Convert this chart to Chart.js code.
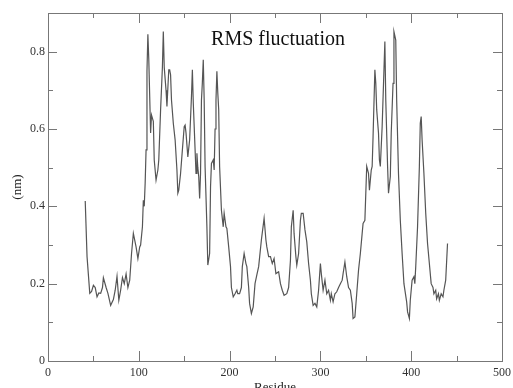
<!DOCTYPE html>
<html>
<head>
<meta charset="utf-8">
<script src="https://cdn.jsdelivr.net/npm/chart.js@4.4.1/dist/chart.umd.min.js"></script>
<style>
  html, body { margin: 0; padding: 0; background: #fff; }
  #wrap { width: 513px; height: 388px; position: relative; }
</style>
</head>
<body>
<div id="wrap"><canvas id="rmsf"></canvas></div>
<script>
// residue numbers and RMS fluctuation (nm)
const residues = [41, 43, 46, 48, 50, 52, 54, 56, 58, 60, 61, 64, 66, 69, 72, 74, 76, 78, 80, 82, 84, 86, 88, 90,
  92, 94, 97, 99, 101, 102, 104, 105, 106, 107, 108, 109, 110, 111, 113, 114, 116, 117, 119, 121, 122, 124, 126,
  127, 128, 130, 131, 133, 134, 135, 136, 138, 140, 142, 143, 144, 146, 148, 150, 151, 152, 154, 156, 158, 159,
  160, 162, 163, 164, 165, 166, 167, 168, 169, 170, 171, 172, 173, 175, 176, 178, 179, 180, 182, 183, 184, 185,
  186, 187, 188, 189, 191, 193, 194, 196, 197, 199, 201, 202, 204, 206, 208, 209, 211, 213, 214, 216, 218, 219,
  221, 222, 224, 226, 228, 230, 232, 235, 238, 240, 241, 243, 245, 247, 249, 251, 254, 256, 258, 260, 263, 265,
  267, 268, 270, 271, 273, 274, 276, 278, 279, 281, 283, 285, 287, 289, 290, 292, 294, 296, 298, 300, 301, 303,
  305, 307, 309, 311, 312, 314, 316, 318, 320, 322, 324, 325, 327, 329, 331, 333, 335, 336, 338, 340, 342, 344,
  346, 347, 349, 351, 353, 354, 356, 357, 358, 360, 361, 362, 364, 365, 366, 368, 370, 371, 372, 374, 375, 377,
  378, 380, 381, 383, 384, 386, 388, 390, 392, 395, 396, 398, 399, 401, 403, 404, 405, 407, 409, 410, 411, 412,
  414, 416, 418, 420, 422, 424, 425, 427, 428, 430, 431, 433, 435, 436, 438, 440];
const rmsf = [0.414, 0.27, 0.175, 0.18, 0.196, 0.19, 0.166, 0.176, 0.175, 0.19, 0.215, 0.19, 0.175, 0.144, 0.159,
  0.183, 0.219, 0.157, 0.183, 0.216, 0.2, 0.225, 0.19, 0.209,
  0.278, 0.33, 0.295, 0.265, 0.295, 0.30, 0.347, 0.416, 0.40, 0.46, 0.546, 0.75, 0.845, 0.78, 0.59, 0.636, 0.62,
  0.52, 0.468, 0.494, 0.52, 0.65, 0.76,
  0.852, 0.76, 0.70, 0.658, 0.753, 0.753, 0.74, 0.675, 0.615, 0.572, 0.494, 0.434, 0.442, 0.485, 0.546, 0.606,
  0.61, 0.59, 0.528, 0.572, 0.684, 0.753,
  0.667, 0.546, 0.485, 0.537, 0.50, 0.477, 0.42, 0.485, 0.675, 0.72, 0.779, 0.675, 0.503, 0.347, 0.248, 0.278,
  0.45, 0.511, 0.52, 0.494, 0.60, 0.675,
  0.749, 0.693, 0.65, 0.503, 0.39, 0.347, 0.382, 0.347, 0.343, 0.295, 0.244, 0.19, 0.166, 0.174, 0.183, 0.174,
  0.174, 0.19, 0.244, 0.278, 0.252, 0.244,
  0.19, 0.149, 0.123, 0.14, 0.2, 0.223, 0.244, 0.313, 0.369, 0.313, 0.295, 0.27, 0.27, 0.252, 0.265, 0.226,
  0.231, 0.2, 0.183, 0.17, 0.174, 0.19,
  0.26, 0.347, 0.39, 0.33, 0.27, 0.248, 0.278, 0.364, 0.382, 0.382, 0.339, 0.308, 0.252, 0.209, 0.174, 0.144,
  0.149, 0.14, 0.183, 0.252, 0.226, 0.183,
  0.209, 0.174, 0.183, 0.157, 0.174, 0.153, 0.174, 0.179, 0.19, 0.2, 0.209, 0.226, 0.256, 0.218, 0.19, 0.183,
  0.149, 0.11, 0.114, 0.174, 0.235, 0.278,
  0.33, 0.356, 0.364, 0.503, 0.485, 0.442, 0.494, 0.503, 0.58, 0.753, 0.718, 0.65, 0.589, 0.52, 0.503, 0.606,
  0.753, 0.826, 0.675, 0.503, 0.434, 0.477,
  0.589, 0.718, 0.852, 0.83, 0.675, 0.485, 0.364, 0.278, 0.2, 0.153, 0.127, 0.11, 0.157, 0.209, 0.218, 0.2,
  0.244, 0.347, 0.503, 0.615, 0.632, 0.572,
  0.485, 0.382, 0.304, 0.252, 0.2, 0.19, 0.174, 0.183, 0.161, 0.174, 0.157, 0.174, 0.166, 0.183, 0.209, 0.304];

const xTicks = [0, 100, 200, 300, 400, 500];
const yTicks = [0, 0.2, 0.4, 0.6, 0.8];
const xMinor = [50, 150, 250, 350, 450];
const yMinor = [0.1, 0.3, 0.5, 0.7];

const serif = '"Liberation Serif", "DejaVu Serif", serif';

// frame, inward ticks on all four sides, and the texts
const gracePlot = {
  id: 'gracePlot',
  afterDraw(chart) {
    const ctx = chart.ctx;
    const a = chart.chartArea;
    const xs = chart.scales.x, ys = chart.scales.y;
    ctx.save();
    ctx.strokeStyle = '#777';
    ctx.lineWidth = 1;
    ctx.strokeRect(Math.round(a.left) + 0.5, Math.round(a.top) + 0.5,
      Math.round(a.right - a.left), Math.round(a.bottom - a.top));

    ctx.beginPath();
    const xt = (v, len) => {
      const px = Math.round(xs.getPixelForValue(v)) + 0.5;
      ctx.moveTo(px, a.bottom); ctx.lineTo(px, a.bottom - len);
      ctx.moveTo(px, a.top); ctx.lineTo(px, a.top + len);
    };
    const yt = (v, len) => {
      const py = Math.round(ys.getPixelForValue(v)) + 0.5;
      ctx.moveTo(a.left, py); ctx.lineTo(a.left + len, py);
      ctx.moveTo(a.right, py); ctx.lineTo(a.right - len, py);
    };
    xTicks.forEach(v => xt(v, 10));
    xMinor.forEach(v => xt(v, 5));
    yTicks.forEach(v => yt(v, 9));
    yMinor.forEach(v => yt(v, 5));
    ctx.stroke();

    ctx.fillStyle = '#111';
    ctx.textAlign = 'center';
    ctx.textBaseline = 'alphabetic';
    const cx = (a.left + a.right) / 2;
    ctx.font = '20px ' + serif;
    ctx.fillText('RMS fluctuation', cx + 3, 45);

    ctx.font = '13px ' + serif;
    ctx.fillStyle = '#222';
    ctx.fillText('Residue', cx, 391);

    ctx.translate(18, (a.top + a.bottom) / 2);
    ctx.rotate(-Math.PI / 2);
    ctx.textBaseline = 'middle';
    ctx.fillText('(nm)', 0, 0);
    ctx.restore();
  }
};

const points = residues.map((r, i) => ({ x: r, y: rmsf[i] }));

new Chart(document.getElementById('rmsf'), {
  type: 'line',
  data: {
    datasets: [{
      label: 'RMSF',
      data: points,
      borderColor: '#555',
      borderWidth: 1.2,
      pointRadius: 0,
      tension: 0,
      fill: false
    }]
  },
  options: {
    responsive: true,
    maintainAspectRatio: false,
    animation: false,
    layout: { padding: { top: 13, right: 11, left: 0, bottom: 0 } },
    plugins: { legend: { display: false }, tooltip: { enabled: false } },
    scales: {
      x: {
        type: 'linear',
        min: 0, max: 500,
        afterFit: (s) => { s.height = 27; s.paddingLeft = 0; s.paddingRight = 0; },
        grid: { display: false, drawTicks: false },
        border: { display: false },
        ticks: {
          stepSize: 100,
          padding: 5,
          maxRotation: 0,
          color: '#333',
          font: { family: serif, size: 12 }
        }
      },
      y: {
        min: 0, max: 0.9,
        afterFit: (s) => { s.width = 48; s.paddingTop = 0; s.paddingBottom = 0; },
        afterBuildTicks: (s) => { s.ticks = yTicks.map(v => ({ value: v })); },
        grid: { display: false, drawTicks: false },
        border: { display: false },
        ticks: {
          padding: 3,
          color: '#333',
          font: { family: serif, size: 12 },
          callback: (v) => String(+v.toFixed(1))
        }
      }
    }
  },
  plugins: [gracePlot]
});
</script>
</body>
</html>
